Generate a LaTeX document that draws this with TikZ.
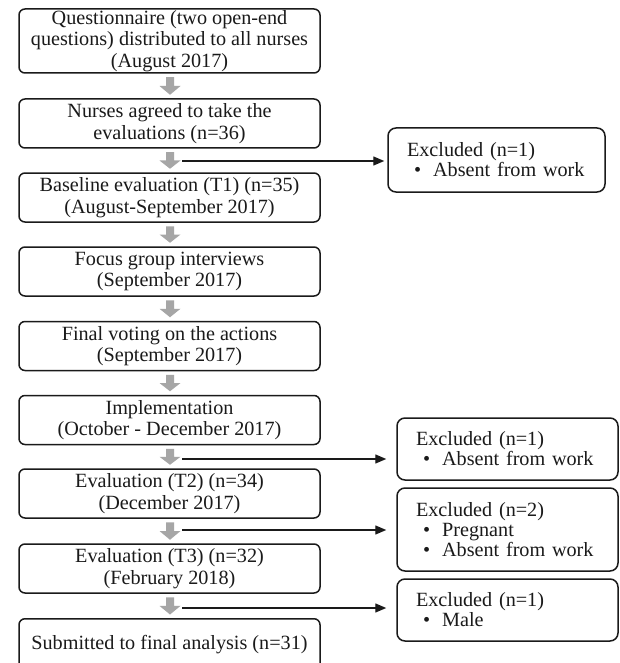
\documentclass[tikz,border=0pt]{standalone}
\usepackage{fontspec}
\setmainfont{Liberation Serif}
\usetikzlibrary{arrows.meta,calc}
\definecolor{boxline}{HTML}{1A1A1A}
\definecolor{txt}{HTML}{1A1A1A}
\definecolor{arrowgray}{HTML}{A6A6A6}
\tikzset{
  mainbox/.style={draw=boxline, line width=1.5pt, rounded corners=6pt, minimum width=301pt,
    minimum height=49pt, align=center, text=txt, inner sep=0pt,
    font=\fontsize{20.2pt}{21.5pt}\selectfont},
  exbox/.style={draw=boxline, line width=1.5pt, rounded corners=8pt, align=left, text=txt,
    inner xsep=19pt, inner ysep=0pt, font=\fontsize{20.2pt}{20pt}\selectfont},
  exline/.style={draw=boxline, line width=1.4pt, -{Triangle[length=11pt,width=9pt]}}
}
\newcommand{\grayarrow}[2]{%
  \fill[arrowgray] let \p1=($(#1.south)+(0.5pt,-3.5pt)$), \p2=($(#2.north)+(0.5pt,3.5pt)$),
    \n1={(\y1+\y2)/2} in
    (\x1-4pt,\y1) -- (\x1+4pt,\y1) -- (\x1+4pt,\n1) -- (\x1+10.5pt,\n1) -- (\x1,\y2)
    -- (\x1-10.5pt,\n1) -- (\x1-4pt,\n1) -- cycle;}
\newcommand{\bul}{\hspace*{7pt}\textbullet\hspace{12pt}}
\begin{document}
\begin{tikzpicture}[x=1pt,y=1pt]
\useasboundingbox (0,0) rectangle (619,-663);
\clip (0,0) rectangle (619,-663);
\fill[white] (0,0) rectangle (619,-663);
% main column
\node[mainbox, minimum height=64pt] (b1) at (169.5,-41) {Questionnaire (two open-end\\questions) distributed to all nurses\\(August 2017)};
\node[mainbox] (b2) at (169.5,-123.5) {Nurses agreed to take the\\evaluations (n=36)};
\node[mainbox] (b3) at (169.5,-197.5) {Baseline evaluation (T1) (n=35)\\(August-September 2017)};
\node[mainbox] (b4) at (169.5,-271.5) {Focus group interviews\\(September 2017)};
\node[mainbox] (b5) at (169.5,-346) {Final voting on the actions\\(September 2017)};
\node[mainbox] (b6) at (169.5,-420) {Implementation\\(October - December 2017)};
\node[mainbox] (b7) at (169.5,-493.5) {Evaluation (T2) (n=34)\\(December 2017)};
\node[mainbox] (b8) at (169.5,-568.5) {Evaluation (T3) (n=32)\\(February 2018)};
\node[mainbox, minimum height=52pt, anchor=north] (b9) at (169.5,-618) {\raisebox{3.5pt}{Submitted to final analysis (n=31)}};
% excluded boxes
\node[exbox, text width=179pt, minimum height=64pt] (e1) at (496.5,-160) {Excluded (n=1)\\\bul Absent from work};
\node[exbox, text width=183pt, minimum height=62pt] (e2) at (507.5,-449) {Excluded (n=1)\\\bul Absent from work};
\node[exbox, text width=183pt, minimum height=83pt] (e3) at (507.5,-529.5) {Excluded (n=2)\\\bul Pregnant\\\bul Absent from work};
\node[exbox, text width=183pt, minimum height=62pt] (e4) at (507.5,-610) {Excluded (n=1)\\\bul Male};
% gray block arrows
\grayarrow{b1}{b2}
\grayarrow{b2}{b3}
\grayarrow{b3}{b4}
\grayarrow{b4}{b5}
\grayarrow{b5}{b6}
\grayarrow{b6}{b7}
\grayarrow{b7}{b8}
\grayarrow{b8}{b9}
% exclusion connectors
\coordinate (l1) at (182,-161);
\coordinate (l2) at (182,-459);
\coordinate (l3) at (182,-530);
\coordinate (l4) at (182,-608);
\draw[exline, shorten >=3pt] (l1) -- (e1.west |- l1);
\draw[exline, shorten >=10pt] (l2) -- (e2.west |- l2);
\draw[exline, shorten >=10pt] (l3) -- (e3.west |- l3);
\draw[exline, shorten >=10pt] (l4) -- (e4.west |- l4);
\end{tikzpicture}
\end{document}
